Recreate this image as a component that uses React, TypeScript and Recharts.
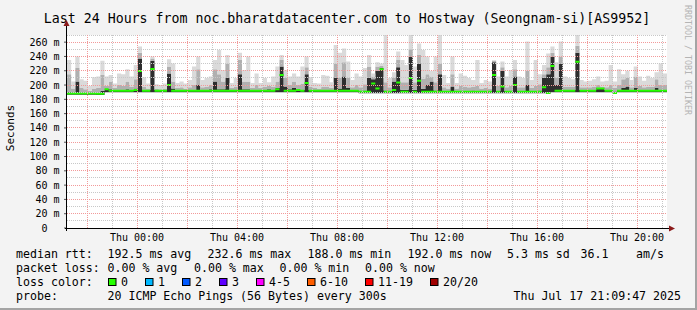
import React from "react";
import { ComposedChart, Area, XAxis, YAxis, CartesianGrid, ReferenceLine } from "recharts";

const W = 697;
const H = 310;
const PLOT_LEFT = 67;
const PLOT_RIGHT = 667;
const PLOT_TOP = 35;
const PLOT_BOTTOM = 228;
const MONO = '"DejaVu Sans Mono", "Liberation Mono", monospace';

// samples every 10 minutes, time in minutes relative to Thu 00:00
const startMin = -168;
const stepMin = 10;

// median rtt (ms)
const medianRtt = [
  188.3, 188.3, 188.3, 188.3, 188.3, 188.3, 188.3, 187.8, 187.8, 194, 192, 192,
  192, 192, 192, 192, 193, 219.5, 192, 192, 222.3, 192, 192, 192,
  200, 192, 192, 192, 192, 192, 192, 192, 192, 192, 192, 192,
  192, 192, 192, 192, 192, 192, 192, 192, 192, 192, 192, 192,
  192, 192, 194, 214, 192, 192, 192, 193, 192, 202.7, 192, 192,
  192, 192, 192, 192, 192, 192, 192, 192, 192, 192, 190.5, 190.5,
  190.5, 202, 195, 222, 190.5, 190.5, 193, 203.6, 190.5, 190.5, 210, 190.5,
  206, 190.5, 190.5, 190.5, 190.5, 190.5, 190.5, 190.5, 190.5, 190.5, 190.5, 190.5,
  190.5, 190.5, 190.5, 190.5, 190.5, 190.5, 214, 190.5, 198, 190.5, 190.5, 200,
  190.5, 190.5, 190.5, 190.5, 190.5, 190.5, 197, 189, 226.5, 192, 192, 192,
  192, 192, 232.6, 192, 192, 192, 192, 195, 195, 192, 192, 189,
  192, 192, 192, 192, 192, 192, 192, 192, 192, 192, 192, 192,
  192,
];

// fastest ping of each step (bottom of the smoke)
const minRtt = [
  186.5, 186.5, 186.5, 186.5, 186.5, 186.5, 186.5, 186, 186, 190, 190, 190,
  190, 190, 190, 190, 190, 190, 190, 190, 190, 190, 190, 190,
  190, 190, 190, 190, 190, 190, 190, 190, 190, 190, 190, 190,
  190, 190, 190, 190, 190, 190, 190, 190, 190, 190, 190, 190,
  190, 190, 190, 190, 190, 190, 190, 190, 190, 190, 190, 190,
  190, 190, 190, 190, 190, 190, 190, 190, 190, 190, 188.5, 188.5,
  188.5, 188.5, 188.5, 188.5, 188.5, 188.5, 188.5, 188.5, 188.5, 188.5, 188.5, 188.5,
  188.5, 188.5, 188.5, 188.5, 188.5, 188.5, 188.5, 188.5, 188.5, 188.5, 188.5, 188.5,
  188.5, 188.5, 188.5, 188.5, 188.5, 188.5, 188.5, 188.5, 188.5, 188.5, 188.5, 188.5,
  188.5, 188.5, 188.5, 188.5, 188.5, 188.5, 188.5, 187.5, 190, 190, 190, 190,
  190, 190, 190, 190, 190, 190, 190, 190, 190, 190, 190, 187.5,
  190, 190, 190, 190, 190, 190, 190, 190, 190, 190, 190, 190,
  190,
];

// top of the dense (dark) part of the smoke
const darkTop = [
  190, 189, 205, 189, 189, 189, 189, 189, 192, 195, 194, 193,
  193, 193, 194, 193, 195, 237, 193, 193, 234, 193, 193, 193,
  216, 195, 193, 193, 193, 193, 193, 200, 193, 193, 194, 205,
  194, 194, 210, 193, 193, 215, 194, 194, 193, 193, 193, 193,
  194, 193, 196, 226, 198, 194, 196, 194, 193, 215, 193, 193,
  193, 193, 193, 193, 210, 195, 212, 196, 193, 193, 191.5, 192.5,
  210, 208, 220, 224, 192.5, 191.5, 205, 225, 193.5, 193.5, 240, 193.5,
  230, 194.5, 200, 205, 192.5, 215, 191.5, 191.5, 198, 191.5, 191.5, 191.5,
  191.5, 192.5, 191.5, 191.5, 191.5, 191.5, 232, 191.5, 220, 191.5, 191.5, 212,
  191.5, 191.5, 200, 191.5, 191.5, 192.5, 210, 215, 240, 200, 230, 193,
  193, 193, 245, 193, 193, 193, 193, 196, 196, 193, 193, 191,
  193, 196, 198, 193, 196, 193, 193, 193, 193, 196, 193, 193,
  193,
];

// top of the medium grey smoke
const midTop = [
  215, 195, 224, 196, 194, 192, 195, 196, 214, 199, 205, 196,
  200, 199, 205, 198, 208, 245, 198, 195, 237, 195, 194, 195,
  226, 205, 196, 197, 195, 197, 200, 222, 197, 198, 200, 222,
  215, 205, 230, 196, 198, 235, 205, 205, 196, 200, 196, 198,
  199, 198, 205, 235, 210, 200, 205, 200, 202, 225, 198, 196,
  195, 198, 198, 196, 230, 210, 232, 210, 197, 200, 197, 201,
  226, 212, 226, 227, 204, 197, 210, 235, 204, 204, 250, 204,
  242, 209, 215, 212, 204, 230, 197, 195, 215, 195, 199, 198,
  197, 198, 199, 195, 196, 195, 234, 199, 225, 197, 199, 222,
  197, 197, 220, 196, 199, 201, 215, 225, 245, 210, 240, 198,
  198, 198, 255, 197, 197, 197, 198, 200, 198, 197, 200, 196,
  200, 208, 210, 197, 212, 199, 197, 198, 198, 208, 200, 200,
  200,
];

// slowest ping of each step (top of the smoke)
const maxRtt = [
  235, 205, 240, 208, 206, 199, 211, 212, 234, 212, 214, 202,
  216, 215, 222, 212, 228, 254, 211, 202, 240, 201, 200, 202,
  236, 230, 203, 205, 202, 207, 226, 240, 207, 210, 212, 235,
  249, 221, 242, 203, 210, 245, 221, 240, 203, 216, 203, 210,
  204, 212, 226, 242, 221, 212, 216, 212, 226, 240, 211, 203,
  202, 214, 213, 204, 256, 245, 251, 233, 207, 216, 212, 224,
  242, 216, 232, 230, 270, 210, 218, 247, 235, 228, 270, 226,
  258, 249, 240, 220, 240, 270, 214, 203, 240, 203, 216, 213,
  210, 207, 235, 203, 207, 205, 235, 212, 233, 212, 221, 235,
  212, 210, 261, 207, 235, 215, 228, 244, 254, 232, 261, 212,
  210, 208, 270, 207, 205, 206, 208, 212, 205, 206, 228, 205,
  222, 215, 220, 207, 226, 212, 206, 213, 210, 218, 230, 216,
  216,
];

const xTicks = [0, 240, 480, 720, 960, 1200];
const xTickLabels = ["Thu 00:00", "Thu 04:00", "Thu 08:00", "Thu 12:00", "Thu 16:00", "Thu 20:00"];
const xMajorGrid = [-120, 0, 120, 240, 360, 480, 600, 720, 840, 960, 1080, 1200];
const xMinorGrid = [-60, 60, 180, 300, 420, 540, 660, 780, 900, 1020, 1140, 1260];
const yTicks = [0, 20, 40, 60, 80, 100, 120, 140, 160, 180, 200, 220, 240, 260];
const yMinorGrid = [10, 30, 50, 70, 90, 110, 130, 150, 170, 190, 210, 230, 250, 270];

const lossLabels = ["0", "1", "2", "3", "4-5", "6-10", "11-19", "20/20"];
const lossColors = ["#26ff00", "#00b8ff", "#0059ff", "#5e00ff", "#ff00ff", "#ff5e00", "#ff0000", "#a00000"];

const rttStats = ["192.5 ms avg", "232.6 ms max", "188.0 ms min", "192.0 ms now", "5.3 ms sd", "36.1", "am/s"];
const rttStatX = [107.5, 207.5, 307.5, 407.5, 507, 580.5, 636];
const lossStats = ["0.00 % avg", "0.00 % max", "0.00 % min", "0.00 % now"];
const lossStatX = [107.5, 194, 279.5, 365];

const rows = medianRtt.map((m, i) => ({
  t: startMin + i * stepMin,
  base: minRtt[i],
  dark: darkTop[i] - minRtt[i],
  mid: midTop[i] - darkTop[i],
  light: maxRtt[i] - midTop[i],
  medBase: m - 1.4,
  medBand: 2.8,
}));

const tickStyle = { fontFamily: MONO, fontSize: 10, fill: "#000" };
const legendStyle = { fontFamily: MONO, fontSize: 11.6, fill: "#000" };

function Overlay() {
  let bx = 108;
  const boxes = lossLabels.map((lab, i) => {
    const x = bx;
    bx += 30 + 7 * lab.length;
    return (
      <g key={lab}>
        <rect x={x + 0.5} y={278.5} width={7.5} height={7} fill={lossColors[i]} stroke="#000" strokeWidth={1} />
        <text x={x + 13} y={285.8} {...legendStyle}>{lab}</text>
      </g>
    );
  });
  return (
    <svg width={W} height={H} style={{ position: "absolute", left: 0, top: 0, pointerEvents: "none" }}>
      <rect x={0} y={H - 2} width={W} height={2} fill="#a4a4a4" />
      <rect x={W - 2} y={0} width={2} height={H} fill="#a4a4a4" />
      <text x={347} y={23} textAnchor="middle" fontFamily={MONO} fontSize={13.25} fill="#000">
        Last 24 Hours from noc.bharatdatacenter.com to Hostway (Seongnam-si)[AS9952]
      </text>
      <text x={14} y={128} textAnchor="middle" transform="rotate(-90 14 128)" fontFamily={MONO} fontSize={11} fill="#000">
        Seconds
      </text>
      <text x={684.5} y={5} transform="rotate(90 684.5 5)" fontFamily={MONO} fontSize={8.3} fill="#b4b4b4">
        RRDTOOL / TOBI OETIKER
      </text>
      <line x1={PLOT_LEFT - 2} y1={PLOT_BOTTOM + 0.5} x2={PLOT_RIGHT + 3} y2={PLOT_BOTTOM + 0.5} stroke="#000" strokeWidth={1} />
      <line x1={PLOT_LEFT - 0.5} y1={PLOT_BOTTOM + 3} x2={PLOT_LEFT - 0.5} y2={24} stroke="#000" strokeWidth={1} />
      <polygon points={`${PLOT_RIGHT + 2},${PLOT_BOTTOM - 2.5} ${PLOT_RIGHT + 8},${PLOT_BOTTOM + 0.5} ${PLOT_RIGHT + 2},${PLOT_BOTTOM + 3.5}`} fill="#8b1a1a" />
      <polygon points={`${PLOT_LEFT - 3.5},26 ${PLOT_LEFT - 0.5},20 ${PLOT_LEFT + 2.5},26`} fill="#8b1a1a" />

      <text x={16} y={257.8} {...legendStyle}>median rtt:</text>
      {rttStats.map((s, i) => (
        <text key={s} x={rttStatX[i]} y={257.8} {...legendStyle}>{s}</text>
      ))}
      <text x={16} y={271.8} {...legendStyle}>packet loss:</text>
      {lossStats.map((s, i) => (
        <text key={s} x={lossStatX[i]} y={271.8} {...legendStyle}>{s}</text>
      ))}
      <text x={16} y={285.8} {...legendStyle}>loss color:</text>
      {boxes}
      <text x={16} y={299.8} {...legendStyle}>probe:</text>
      <text x={107.5} y={299.8} {...legendStyle}>20 ICMP Echo Pings (56 Bytes) every 300s</text>
      <text x={681} y={299.8} textAnchor="end" {...legendStyle}>Thu Jul 17 21:09:47 2025</text>
    </svg>
  );
}

export default function App() {
  return (
    <div style={{ position: "absolute", left: 0, top: 0, width: W, height: H, background: "#f3f3f3" }}>
      <ComposedChart
        width={W}
        height={H}
        data={rows}
        margin={{ top: PLOT_TOP, right: W - PLOT_RIGHT, bottom: H - PLOT_BOTTOM - 30, left: PLOT_LEFT - 60 }}
      >
        <CartesianGrid horizontal={false} vertical={false} fill="#ffffff" />
        <XAxis
          type="number"
          dataKey="t"
          domain={[startMin, startMin + (medianRtt.length - 1) * stepMin]}
          allowDataOverflow
          ticks={xTicks}
          interval={0}
          tickFormatter={(v: number) => xTickLabels[xTicks.indexOf(v)] ?? ""}
          height={30}
          axisLine={false}
          tickLine={false}
          tickSize={2}
          tickMargin={3.5}
          tick={tickStyle}
        />
        <YAxis
          type="number"
          domain={[0, 270]}
          allowDataOverflow
          ticks={yTicks}
          interval={0}
          tickFormatter={(v: number) => (v === 0 ? "0\u00a0\u00a0" : `${v} m`)}
          width={60}
          axisLine={false}
          tickLine={{ stroke: "#555" }}
          tickSize={3}
          tickMargin={4.5}
          tick={tickStyle}
        />
        <Area stackId="smoke" dataKey="base" type="stepAfter" stroke="none" fill="none" isAnimationActive={false} dot={false} activeDot={false} />
        <Area stackId="smoke" dataKey="dark" type="stepAfter" stroke="none" fill="#2e2e2e" fillOpacity={1} isAnimationActive={false} dot={false} activeDot={false} />
        <Area stackId="smoke" dataKey="mid" type="stepAfter" stroke="none" fill="#b0b0b0" fillOpacity={1} isAnimationActive={false} dot={false} activeDot={false} />
        <Area stackId="smoke" dataKey="light" type="stepAfter" stroke="none" fill="#dadada" fillOpacity={1} isAnimationActive={false} dot={false} activeDot={false} />
        {yMinorGrid.map((v) => (
          <ReferenceLine key={`ym${v}`} y={v} stroke="#c8c8c8" strokeDasharray="1 1" shapeRendering="crispEdges" />
        ))}
        {xMinorGrid.map((v) => (
          <ReferenceLine key={`xm${v}`} x={v} stroke="#c8c8c8" strokeDasharray="1 1" shapeRendering="crispEdges" />
        ))}
        {yTicks.filter((v) => v > 0).map((v) => (
          <ReferenceLine key={`yM${v}`} y={v} stroke="#f29a9a" strokeDasharray="1 1" shapeRendering="crispEdges" />
        ))}
        {xMajorGrid.map((v) => (
          <ReferenceLine key={`xM${v}`} x={v} stroke="#f29a9a" strokeDasharray="1 1" shapeRendering="crispEdges" />
        ))}
        <Area stackId="median" dataKey="medBase" type="stepAfter" stroke="none" fill="none" isAnimationActive={false} dot={false} activeDot={false} />
        <Area stackId="median" dataKey="medBand" type="stepAfter" stroke="none" fill="#26ff00" fillOpacity={1} isAnimationActive={false} dot={false} activeDot={false} />
      </ComposedChart>
      <Overlay />
    </div>
  );
}
